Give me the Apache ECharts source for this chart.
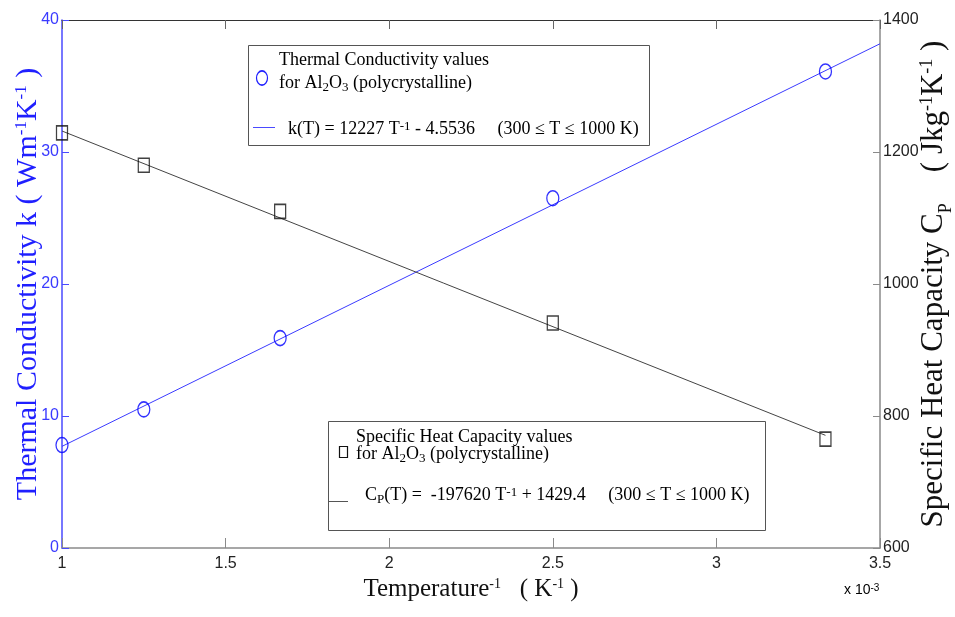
<!DOCTYPE html>
<html><head><meta charset="utf-8">
<script src="https://cdn.jsdelivr.net/npm/echarts@6/dist/echarts.min.js"></script>
<style>html,body{margin:0;padding:0;background:#fff}#c{width:955px;height:617px}</style>
</head><body><div id="c"></div>
<script>
// ---- data (x in units of 10^-3 K^-1) ----
const invTemperature = [1, 1.25, 1.6667, 2.5, 3.3333];
const kMeasured = [7.8, 10.5, 15.9, 26.5, 36.1];
const cpMeasured = [1229, 1180, 1110, 941, 765];
const kFitX = [1, 3.5];
const kFitY = [7.7, 38.2];
const cpFitX = [1, 3.3333];
const cpFitY = [1231.8, 770.7];
const xTickLabels = [1, 1.5, 2, 2.5, 3, 3.5];
const kTickLabels = [0, 10, 20, 30, 40];
const cpTickLabels = [600, 800, 1000, 1200, 1400];

const SERIF = "'Liberation Serif','Times New Roman',serif";
const SANS = "'Liberation Sans Narrow','Arial Narrow','Liberation Sans',Arial,sans-serif";
const BLUE = '#1f1fff';

const pairs = (xs, ys) => xs.map((x, i) => [x, ys[i]]);
const step = a => a[1] - a[0];

function nameRich(color, size) {
  const small = Math.round(size * 0.58);
  return {
    b: {fontFamily: SERIF, fontSize: size, lineHeight: size + 6, verticalAlign: 'top', color},
    s: {fontFamily: SERIF, fontSize: small, lineHeight: small - 2, verticalAlign: 'top', color},
    sub: {fontFamily: SERIF, fontSize: small, lineHeight: small, padding: [size - 2, 0, 0, 0], verticalAlign: 'bottom', color}
  };
}
function legendRich(color) {
  return {
    b: {fontFamily: SERIF, fontSize: 18, lineHeight: 20, verticalAlign: 'top', color},
    sub: {fontFamily: SERIF, fontSize: 13, lineHeight: 14, padding: [17, 0, 0, 0], verticalAlign: 'bottom', color},
    sup: {fontFamily: SERIF, fontSize: 13, lineHeight: 10, verticalAlign: 'top', color}
  };
}
function ltext(x, y, text) {
  return {type: 'text', x, y, z: 20, style: {text, rich: legendRich('#111'), verticalAlign: 'top', align: 'left'}};
}

const chart = echarts.init(document.getElementById('c'));
chart.setOption({
  animation: false,
  backgroundColor: '#fff',
  grid: {left: 62, right: 75, top: 20, bottom: 69, containLabel: false, outerBoundsMode: 'none'},
  xAxis: [{
    type: 'value', position: 'bottom',
    min: xTickLabels[0], max: xTickLabels[xTickLabels.length - 1], interval: step(xTickLabels),
    axisLine: {show: true, lineStyle: {color: '#8a8a8a', width: 1.5}},
    axisTick: {show: true, inside: true, length: 10, lineStyle: {color: '#8a8a8a', width: 1}},
    axisLabel: {color: '#222', fontFamily: SANS, fontSize: 16, margin: 8, formatter: v => String(v)},
    splitLine: {show: false},
    name: '{b|Temperature}{s|-1}{b|   ( K}{s|-1}{b| )}',
    nameLocation: 'middle', nameGap: 29, nameMoveOverlap: false,
    nameTextStyle: {rich: nameRich('#111', 25)}
  }, {
    type: 'value', position: 'top',
    min: xTickLabels[0], max: xTickLabels[xTickLabels.length - 1], interval: step(xTickLabels),
    axisLine: {show: true, lineStyle: {color: '#333', width: 1}},
    axisTick: {show: true, inside: true, length: 9, lineStyle: {color: '#666', width: 1}},
    axisLabel: {show: false},
    splitLine: {show: false}
  }],
  yAxis: [{
    type: 'value', position: 'left',
    min: kTickLabels[0], max: kTickLabels[kTickLabels.length - 1], interval: step(kTickLabels),
    axisLine: {show: true, lineStyle: {color: '#4a4aff', width: 1.5}},
    axisTick: {show: true, inside: true, length: 7, lineStyle: {color: '#4a4aff', width: 1}},
    axisLabel: {color: '#3a3aff', fontFamily: SANS, fontSize: 16, margin: 3, formatter: v => String(v)},
    splitLine: {show: false},
    name: '{b|Thermal Conductivity k ( Wm}{s|-1}{b|K}{s|-1}{b| )}',
    nameLocation: 'middle', nameRotate: 90, nameGap: 13, nameMoveOverlap: false,
    nameTextStyle: {rich: nameRich(BLUE, 30)}
  }, {
    type: 'value', position: 'right',
    min: cpTickLabels[0], max: cpTickLabels[cpTickLabels.length - 1], interval: step(cpTickLabels),
    axisLine: {show: true, lineStyle: {color: '#8a8a8a', width: 1.5}},
    axisTick: {show: true, inside: true, length: 7, lineStyle: {color: '#8a8a8a', width: 1}},
    axisLabel: {color: '#222', fontFamily: SANS, fontSize: 16, margin: 3, formatter: v => String(v)},
    splitLine: {show: false},
    name: '{b|Specific Heat Capacity C}{sub|P}{b|    ( Jkg}{s|-1}{b|K}{s|-1}{b| )}',
    nameLocation: 'middle', nameRotate: 90, nameGap: 38, nameMoveOverlap: false,
    nameTextStyle: {rich: nameRich('#111', 31)}
  }],
  series: [{
    name: 'k fit', type: 'line', xAxisIndex: 0, yAxisIndex: 0,
    data: pairs(kFitX, kFitY), showSymbol: false, silent: true,
    lineStyle: {color: '#3b3bff', width: 1}
  }, {
    name: 'Cp fit', type: 'line', xAxisIndex: 0, yAxisIndex: 1,
    data: pairs(cpFitX, cpFitY), showSymbol: false, silent: true,
    lineStyle: {color: '#444', width: 1}
  }, {
    name: 'k', type: 'scatter', xAxisIndex: 0, yAxisIndex: 0,
    data: pairs(invTemperature, kMeasured), symbol: 'circle', symbolSize: [12, 15],
    itemStyle: {color: 'rgba(0,0,0,0)', borderColor: '#0000ff', borderWidth: 1.4}, z: 5
  }, {
    name: 'Cp', type: 'scatter', xAxisIndex: 0, yAxisIndex: 1,
    data: pairs(invTemperature, cpMeasured), symbol: 'rect', symbolSize: [11, 14],
    itemStyle: {color: 'rgba(0,0,0,0)', borderColor: '#111', borderWidth: 1.4}, z: 5
  }],
  graphic: [
    // legend 1
    {type: 'rect', z: 15, shape: {x: 248.5, y: 45.5, width: 401, height: 100}, style: {fill: '#fff', stroke: '#555', lineWidth: 1}},
    {type: 'circle', z: 20, x: 262, y: 78, scaleY: 1.3, shape: {cx: 0, cy: 0, r: 5.5}, style: {fill: 'none', stroke: '#1f1fff', lineWidth: 1.2}},
    ltext(279, 51.5, '{b|Thermal Conductivity values}'),
    ltext(279, 74.5, '{b|for Al}{sub|2}{b|O}{sub|3}{b| (polycrystalline)}'),
    {type: 'line', z: 20, shape: {x1: 253, y1: 127.5, x2: 275, y2: 127.5}, style: {stroke: '#4a4aff', lineWidth: 1}},
    ltext(288, 120.5, '{b|k(T) = 12227 T}{sup|-1}{b| - 4.5536     (300 ≤ T ≤ 1000 K)}'),
    // legend 2
    {type: 'rect', z: 15, shape: {x: 328.5, y: 421.5, width: 437, height: 109}, style: {fill: '#fff', stroke: '#555', lineWidth: 1}},
    {type: 'rect', z: 20, shape: {x: 339.5, y: 446.5, width: 8, height: 11}, style: {fill: 'none', stroke: '#111', lineWidth: 1.2}},
    ltext(356, 428.5, '{b|Specific Heat Capacity values}'),
    ltext(356, 445, '{b|for Al}{sub|2}{b|O}{sub|3}{b| (polycrystalline)}'),
    {type: 'line', z: 20, shape: {x1: 329, y1: 501.5, x2: 348, y2: 501.5}, style: {stroke: '#555', lineWidth: 1}},
    ltext(365, 486.5, '{b|C}{sub|P}{b|(T) =  -197620 T}{sup|-1}{b| + 1429.4     (300 ≤ T ≤ 1000 K)}'),
    // axis multiplier
    {type: 'text', x: 844, y: 583, z: 20, style: {text: '{b|x 10}{s|-3}', verticalAlign: 'top', rich: {
      b: {fontFamily: SANS, fontSize: 14, lineHeight: 18, verticalAlign: 'top', color: '#222'},
      s: {fontFamily: SANS, fontSize: 10, lineHeight: 10, verticalAlign: 'top', color: '#222'}
    }}}
  ]
});
</script></body></html>
